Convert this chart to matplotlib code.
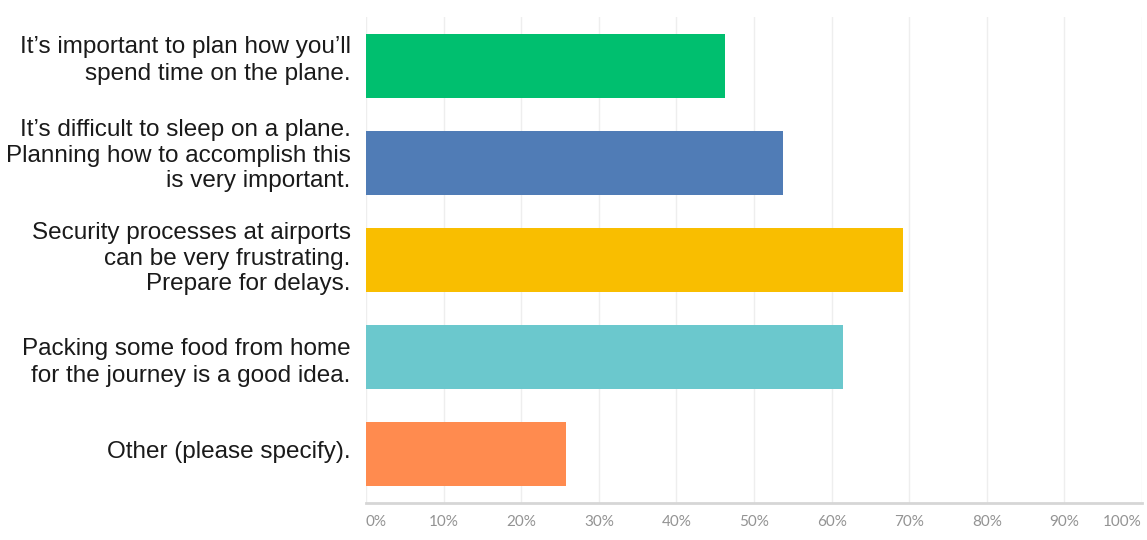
import matplotlib.pyplot as plt
import matplotlib.transforms as mtransforms

categories = [
    "It\u2019s important to plan how you\u2019ll\nspend time on the plane.",
    "It\u2019s difficult to sleep on a plane.\nPlanning how to accomplish this\nis very important.",
    "Security processes at airports\ncan be very frustrating.\nPrepare for delays.",
    "Packing some food from home\nfor the journey is a good idea.",
    "Other (please specify).",
]
values = [46.3, 53.7, 69.2, 61.5, 25.8]
colors = ["#00BF6F", "#507CB6", "#F9BE00", "#6BC8CD", "#FF8B4F"]
tick_values = list(range(0, 101, 10))
tick_labels = [f"{t}%" for t in tick_values]

# small vertical nudges (points) so labels sit like the original
label_shift = [7.5, 8, 4, 0, 3.5]

fig = plt.figure(figsize=(11.47, 5.40), dpi=100)
ax = fig.add_axes([366 / 1147, 1 - 503 / 540, (1142 - 366) / 1147, (503 - 17) / 540])

ypos = list(range(len(categories)))
ax.barh(ypos, values, height=0.66, color=colors, zorder=3)

ax.set_xlim(0, 100)
ax.set_ylim(len(categories) - 0.5, -0.5)

ax.set_xticks(tick_values)
ax.set_xticklabels(tick_labels, fontsize=11, color="#939393", family="Lato")
ax.tick_params(axis="x", length=0, pad=9)
for lbl, t in zip(ax.get_xticklabels(), tick_values):
    if t == 0:
        lbl.set_ha("left")
    elif t == 100:
        lbl.set_ha("right")

ax.set_yticks(ypos)
ax.set_yticklabels(categories, fontsize=17.5, family="Liberation Sans", color="#1a1a1a")
ax.tick_params(axis="y", length=0, pad=11)
for lbl, dy in zip(ax.get_yticklabels(), label_shift):
    lbl.set_ha("right")
    lbl.set_multialignment("right")
    nlines = lbl.get_text().count("\n") + 1
    lbl.set_linespacing(1.2 if nlines > 2 else 1.34)
    lbl.set_transform(lbl.get_transform() +
                      mtransforms.ScaledTranslation(0, dy / 72, fig.dpi_scale_trans))

ax.grid(axis="x", color="#eeeeee", linewidth=1, zorder=0)
ax.grid(axis="y", visible=False)
for side in ["top", "right", "left"]:
    ax.spines[side].set_visible(False)
ax.spines["bottom"].set_color("#d6d6d6")
ax.spines["bottom"].set_linewidth(2)

fig.savefig("out.png", dpi=100)
